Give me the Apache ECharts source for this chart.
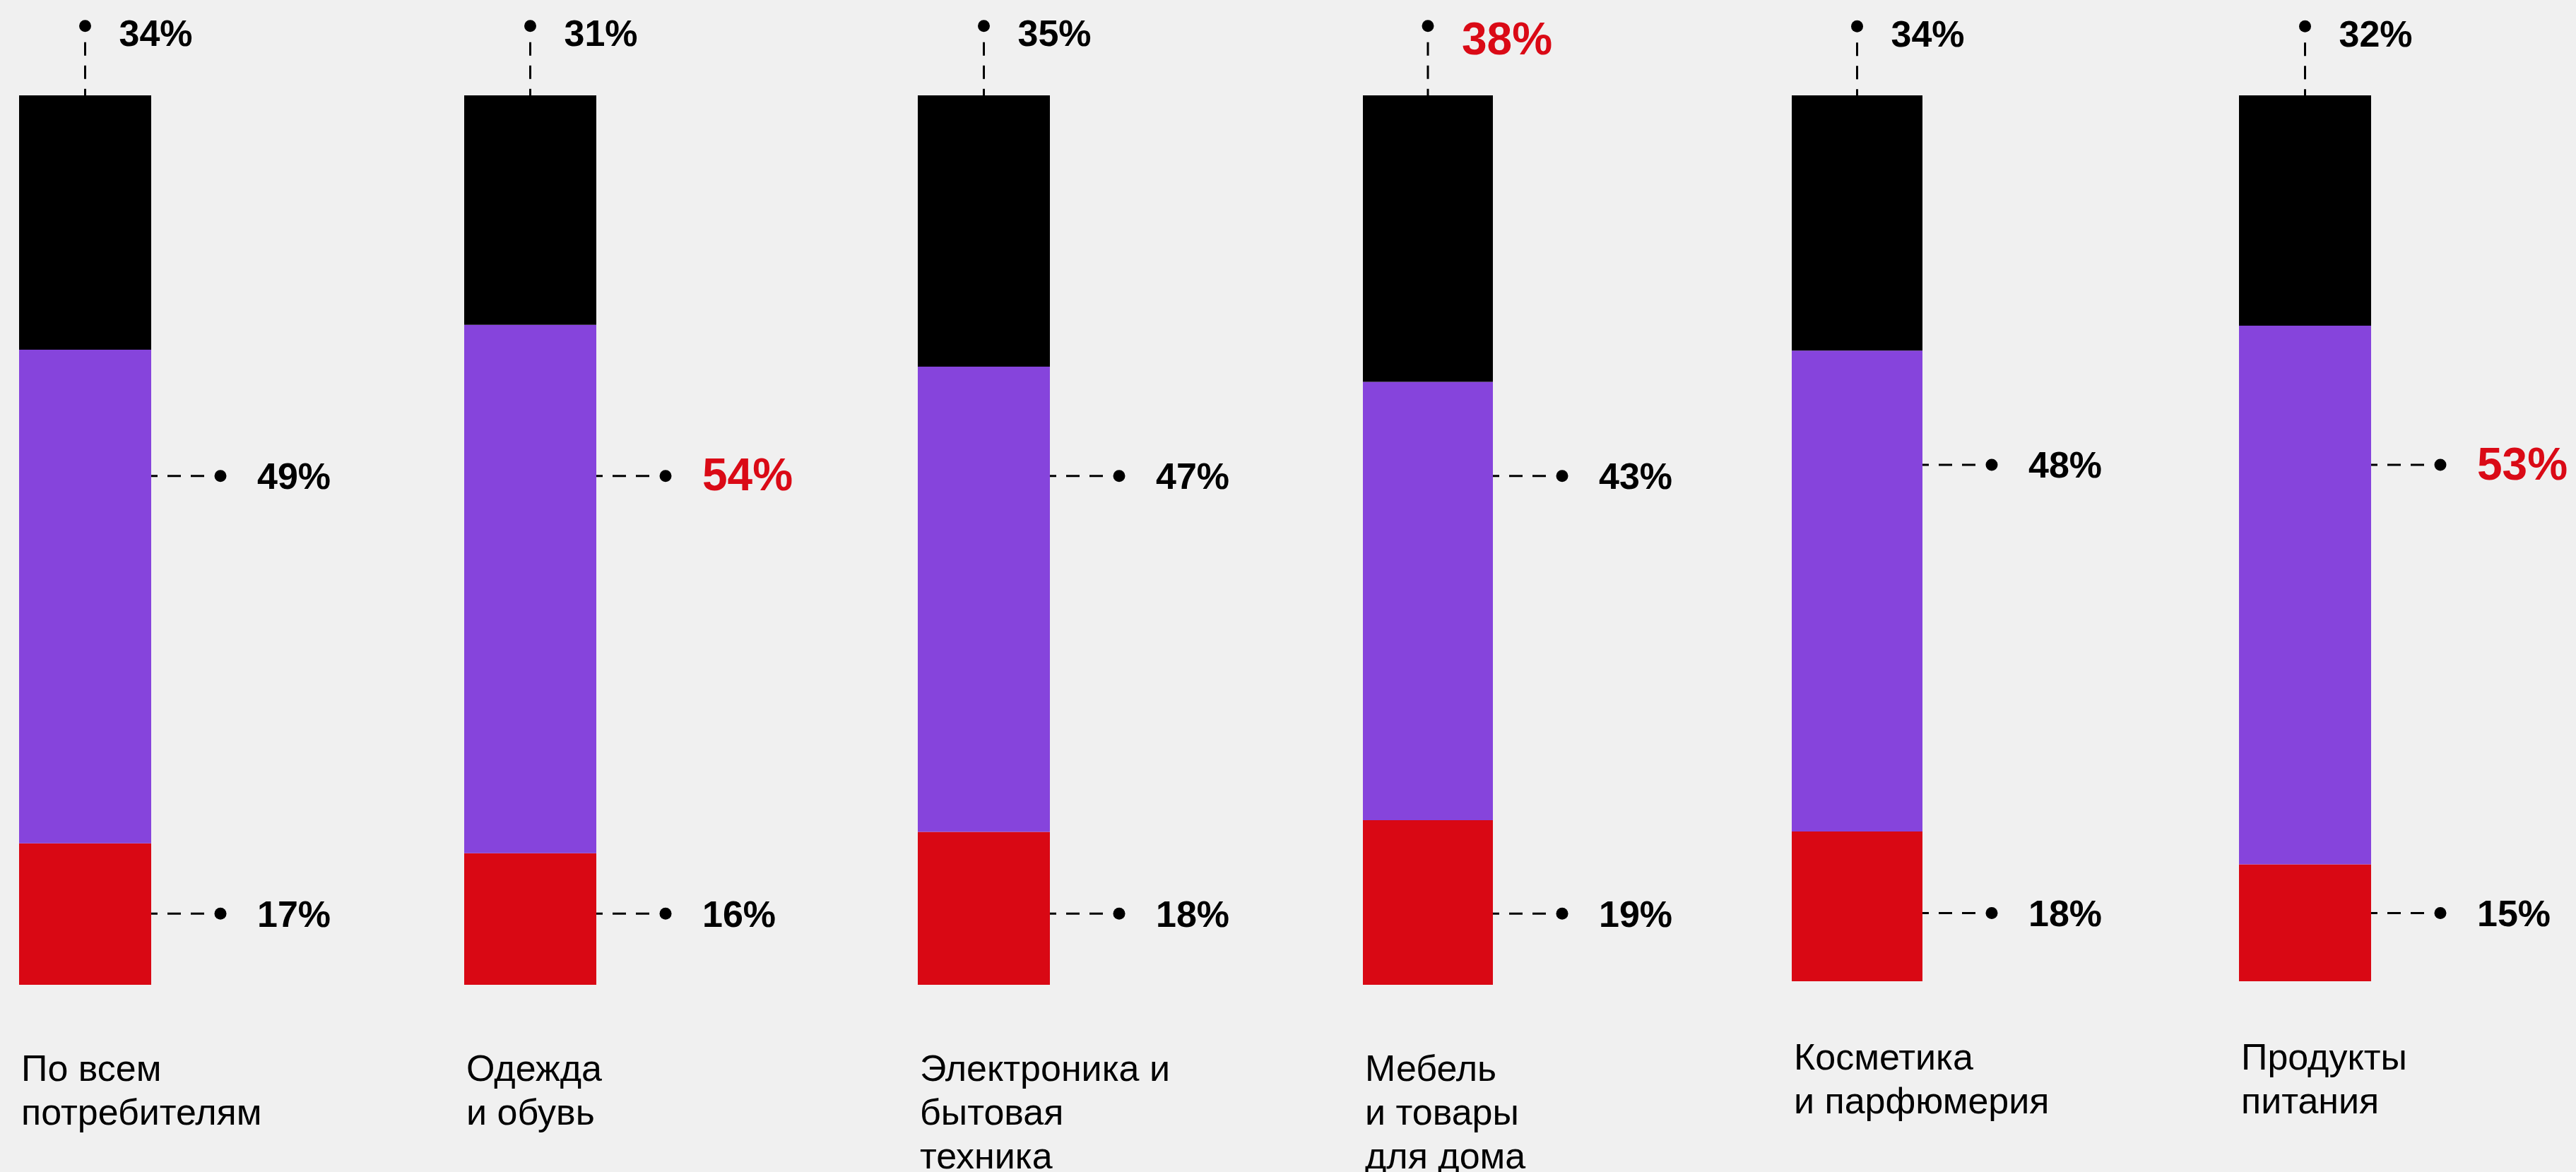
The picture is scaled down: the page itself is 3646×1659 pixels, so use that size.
<!DOCTYPE html>
<html>
<head>
<meta charset="utf-8">
<script src="https://cdn.jsdelivr.net/npm/echarts@6/dist/echarts.min.js"></script>
<style>
  html, body { margin: 0; padding: 0; background: #f0f0f0; }
  #chart { width: 3646px; height: 1659px; }
</style>
</head>
<body>
<div id="chart"></div>
<script>
// ---- data ----
const categories = [
  'По всем\nпотребителям',
  'Одежда\nи обувь',
  'Электроника и\nбытовая\nтехника',
  'Мебель\nи товары\nдля дома',
  'Косметика\nи парфюмерия',
  'Продукты\nпитания'
];
// printed percentages
const topLabels = [34, 31, 35, 38, 34, 32];   // black segment
const midLabels = [49, 54, 47, 43, 48, 53];   // purple segment
const lowLabels = [17, 16, 18, 19, 18, 15];   // red segment
// segment heights as drawn in the picture (share of bar height, %)
const blackDrawn  = [28.6, 25.8, 30.5, 32.2, 28.8, 26.0];
const purpleDrawn = [55.5, 59.4, 52.3, 49.3, 54.3, 60.8];
const redDrawn    = [15.9, 14.8, 17.2, 18.5, 16.9, 13.2];
// highlighted (red, larger) labels
const hiTop = [false, false, false, true, false, false];
const hiMid = [false, true, false, false, false, true];
const hiLow = [false, false, false, false, false, false];

// ---- layout / style ----
const BLACK = '#000000', PURPLE = '#8644dc', RED = '#d90814', RED_TXT = '#da0a16';
const barLeft = [27, 657, 1299, 1929, 2536, 3169];
const barW = [187, 187, 187, 184, 185, 187];
const gridTop = 135;
const gridBottom = [265, 265, 265, 265, 270, 270];
const levelTop = 107.8;
const levelMid = [57.2, 57.2, 57.2, 57.2, 58.3, 58.3];
const levelLow = [8.0, 8.0, 8.0, 8.0, 7.7, 7.7];
const catTop = [1485, 1485, 1485, 1485, 1469, 1469];
const FONT = '"Liberation Sans", Arial, sans-serif';

const grids = [], xAxes = [], yAxes = [], series = [], titles = [];

function renderLeader(params, api) {
  const kind = api.value(2);
  const level = api.value(1);
  const hi = api.value(4) === 1;
  const text = api.value(3) + '%';
  const band = api.size([1, 0])[0];
  const p = api.coord([0, level]);
  const cx = p[0];
  const children = [];
  const lineStyle = { stroke: '#000', lineWidth: 3, lineDash: [19, 14] };
  const fontSize = hi ? 64 : 52;
  const txtStyle = {
    text: text,
    font: 'bold ' + fontSize + 'px ' + FONT,
    fill: hi ? RED_TXT : '#000',
    align: 'left',
    verticalAlign: 'middle'
  };
  if (kind === 0) {
    const top = api.coord([0, 100])[1];
    const dotY = p[1];
    children.push({ type: 'line', shape: { x1: cx, y1: dotY + 23, x2: cx, y2: top }, style: lineStyle });
    children.push({ type: 'circle', shape: { cx: cx, cy: dotY, r: 8.5 }, style: { fill: '#000' } });
    txtStyle.x = cx + 48;
    txtStyle.y = dotY + (hi ? 23 : 14);
    children.push({ type: 'text', style: txtStyle });
  } else {
    const right = cx + band / 2;
    const y = p[1];
    const dotX = right + 98;
    children.push({ type: 'line', shape: { x1: dotX - 23, y1: y, x2: right, y2: y }, style: lineStyle });
    children.push({ type: 'circle', shape: { cx: dotX, cy: y, r: 8.5 }, style: { fill: '#000' } });
    txtStyle.x = dotX + 52;
    txtStyle.y = y + (hi ? 3 : 4);
    children.push({ type: 'text', style: txtStyle });
  }
  return { type: 'group', children: children };
}

categories.forEach((cat, i) => {
  grids.push({ left: barLeft[i], width: barW[i], top: gridTop, bottom: gridBottom[i] });
  xAxes.push({ type: 'category', gridIndex: i, data: [cat], show: false, boundaryGap: true });
  yAxes.push({ type: 'value', gridIndex: i, min: 0, max: 100, show: false });
  const common = { type: 'bar', xAxisIndex: i, yAxisIndex: i, stack: 's' + i, barWidth: '100%', silent: true, animation: false };
  series.push(Object.assign({ name: 'red', data: [redDrawn[i]], itemStyle: { color: RED } }, common));
  series.push(Object.assign({ name: 'purple', data: [purpleDrawn[i]], itemStyle: { color: PURPLE } }, common));
  series.push(Object.assign({ name: 'black', data: [blackDrawn[i]], itemStyle: { color: BLACK } }, common));
  series.push({
    type: 'custom', xAxisIndex: i, yAxisIndex: i, clip: false, silent: true, animation: false,
    renderItem: renderLeader,
    data: [
      [0, levelTop, 0, topLabels[i], hiTop[i] ? 1 : 0],
      [0, levelMid[i], 1, midLabels[i], hiMid[i] ? 1 : 0],
      [0, levelLow[i], 1, lowLabels[i], hiLow[i] ? 1 : 0]
    ],
    encode: { x: 0, y: 1 }
  });
  titles.push({
    text: cat,
    left: barLeft[i] + 3,
    top: catTop[i],
    padding: 0,
    textStyle: { fontFamily: FONT, fontSize: 52, fontWeight: 'normal', color: '#000', lineHeight: 62 }
  });
});

const chart = echarts.init(document.getElementById('chart'), null, { renderer: 'canvas' });
chart.setOption({
  backgroundColor: '#f0f0f0',
  animation: false,
  title: titles,
  grid: grids,
  xAxis: xAxes,
  yAxis: yAxes,
  series: series
});
</script>
</body>
</html>
